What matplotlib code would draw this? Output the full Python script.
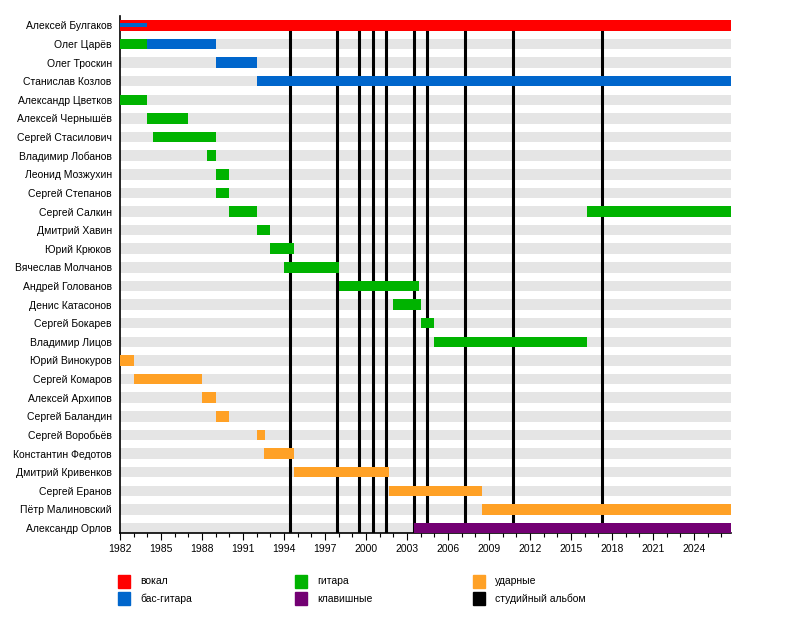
import matplotlib
matplotlib.use("Agg")
import matplotlib.pyplot as plt
from matplotlib.patches import Rectangle

plt.rcParams['font.family'] = ['Liberation Sans', 'DejaVu Sans']

START, END = 1982, 2026.7

members = [
    "Алексей Булгаков", "Олег Царёв", "Олег Троскин", "Станислав Козлов",
    "Александр Цветков", "Алексей Чернышёв", "Сергей Стасилович",
    "Владимир Лобанов", "Леонид Мозжухин", "Сергей Степанов", "Сергей Салкин",
    "Дмитрий Хавин", "Юрий Крюков", "Вячеслав Молчанов", "Андрей Голованов",
    "Денис Катасонов", "Сергей Бокарев", "Владимир Лицов", "Юрий Винокуров",
    "Сергей Комаров", "Алексей Архипов", "Сергей Баландин", "Сергей Воробьёв",
    "Константин Федотов", "Дмитрий Кривенков", "Сергей Еранов",
    "Пётр Малиновский", "Александр Орлов",
]

# one entry per bar: who, from, till, role
bar_member = [
    "Алексей Булгаков", "Олег Царёв", "Олег Царёв", "Олег Троскин",
    "Станислав Козлов", "Александр Цветков", "Алексей Чернышёв",
    "Сергей Стасилович", "Владимир Лобанов", "Леонид Мозжухин",
    "Сергей Степанов", "Сергей Салкин", "Сергей Салкин", "Дмитрий Хавин",
    "Юрий Крюков", "Вячеслав Молчанов", "Андрей Голованов", "Денис Катасонов",
    "Сергей Бокарев", "Владимир Лицов", "Юрий Винокуров", "Сергей Комаров",
    "Алексей Архипов", "Сергей Баландин", "Сергей Воробьёв",
    "Константин Федотов", "Дмитрий Кривенков", "Сергей Еранов",
    "Пётр Малиновский", "Александр Орлов",
]
bar_start = [
    1982, 1982, 1984, 1989, 1992, 1982, 1984, 1984.45, 1988.35, 1989, 1989,
    1990, 2016.2, 1992, 1993, 1994, 1998, 2002, 2004, 2005, 1982, 1983,
    1988, 1989, 1992, 1992.55, 1994.7, 2001.7, 2008.5, 2003.5,
]
bar_end = [
    END, 1984, 1989, 1992, END, 1984, 1987, 1989, 1989, 1990, 1990,
    1992, END, 1993, 1994.7, 1998, 2003.9, 2004, 2005, 2016.2, 1983, 1988,
    1989, 1990, 1992.6, 1994.7, 2001.7, 2008.5, END, END,
]
bar_role = [
    "vocals", "guitar", "bass", "bass", "bass", "guitar", "guitar", "guitar",
    "guitar", "guitar", "guitar", "guitar", "guitar", "guitar", "guitar",
    "guitar", "guitar", "guitar", "guitar", "guitar", "drums", "drums",
    "drums", "drums", "drums", "drums", "drums", "drums", "drums", "keys",
]

# Булгаков also played bass at the start
extra_member, extra_start, extra_end, extra_role = "Алексей Булгаков", 1982, 1984, "bass"

albums = [1994.45, 1997.9, 1999.5, 2000.5, 2001.45, 2003.5, 2004.45,
          2007.25, 2010.75, 2017.25]

role_colors = {
    "vocals": "#ff0000", "bass": "#0066cc", "guitar": "#00b300",
    "keys": "#730073", "drums": "#ffa126", "album": "#000000",
}
legend_roles = ["vocals", "bass", "guitar", "keys", "drums", "album"]
legend_labels = ["вокал", "бас-гитара", "гитара", "клавишные", "ударные",
                 "студийный альбом"]

W, H = 800, 628
fig = plt.figure(figsize=(W / 100, H / 100), dpi=100)
h = 0.565
n = len(members)
ax = fig.add_axes([120 / W, (H - 533.3) / H, (731 - 120) / W, (533.3 - 16) / H])

rows = {m: i for i, m in enumerate(members)}

# grey background bands
ax.barh(range(n), END - START, left=START, height=h, color="#e5e5e5",
        zorder=1)

ax.vlines(albums, 0, n - 1 + h / 2, color="black", linewidth=2.2, zorder=2)

for m, s, e, r in zip(bar_member, bar_start, bar_end, bar_role):
    ax.barh(rows[m], e - s, left=s, height=h, color=role_colors[r], zorder=3)
ax.barh(rows[extra_member], extra_end - extra_start, left=extra_start,
        height=h * 0.4, color=role_colors[extra_role], zorder=4)

ax.set_xlim(START, END)
ax.set_ylim(n - 1 + h / 2, -0.5)
ax.set_yticks(range(n))
ax.set_yticklabels(members, fontsize=7.5)
ax.tick_params(axis="y", length=0, pad=6)
ax.set_xticks(range(1982, 2026, 3))
ax.set_xticks(range(1982, 2027), minor=True)
ax.tick_params(axis="x", which="major", length=5, width=0.8, labelsize=7.5,
               pad=3)
ax.tick_params(axis="x", which="minor", length=3, width=0.8)
for side in ["top", "right"]:
    ax.spines[side].set_visible(False)
ax.spines["left"].set_linewidth(1.2)
ax.spines["bottom"].set_linewidth(1.2)

# legend, three columns of two
col_x = [118, 295, 473]
row_y = [575, 592]
for k, (r, lab) in enumerate(zip(legend_roles, legend_labels)):
    cx = col_x[k // 2]
    cy = row_y[k % 2]
    fig.add_artist(Rectangle((cx / W, 1 - (cy + 12.5) / H), 12 / W, 12.5 / H,
                             transform=fig.transFigure,
                             color=role_colors[r]))
    fig.text((cx + 22) / W, 1 - (cy + 6.5) / H, lab, fontsize=7.5,
             va="center", ha="left")

fig.savefig("out.png", dpi=100)
